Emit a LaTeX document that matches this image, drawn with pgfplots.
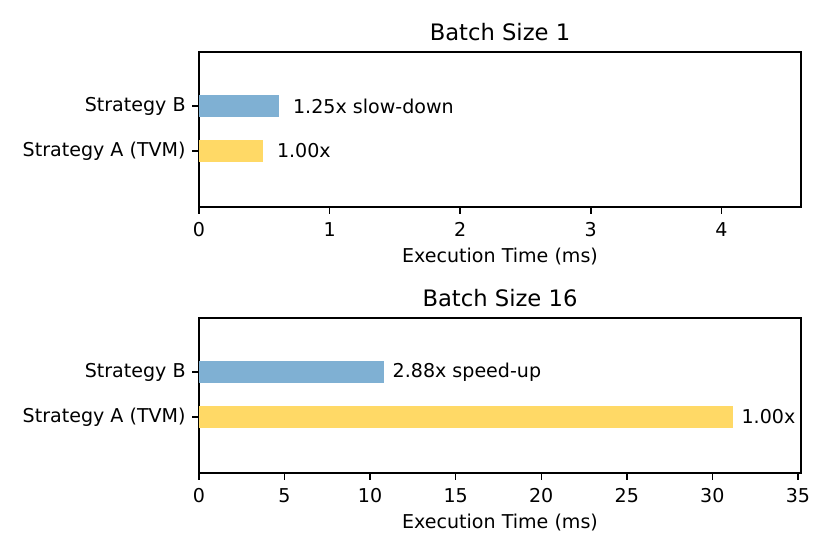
\documentclass[border=0pt]{standalone}
\usepackage{pgfplots}
\pgfplotsset{compat=1.18}
\usepackage{fontspec}
\setmainfont{DejaVu Sans}
\definecolor{barblue}{RGB}{127,176,211}
\definecolor{baryellow}{RGB}{255,217,102}
\pgfplotsset{
  myaxis/.style={
    scale only axis,
    width=451.5pt, height=116.25pt,
    anchor=south west,
    xbar, bar width=0.48, bar shift=0pt,
    ymin=-1.25, ymax=2.2, xmin=0,
    ytick={0,1}, yticklabels={Strategy A (TVM), Strategy B},
    xtick pos=bottom, ytick pos=left,
    tick align=outside, major tick length=5pt,
    axis line style={line width=1.1pt},
    every tick/.style={line width=1.1pt, black},
    tick label style={font=\fontsize{14.3}{17}\selectfont},
    xticklabel style={yshift=-3pt},
    yticklabel style={xshift=-1.5pt},
    label style={font=\fontsize{14.3}{17}\selectfont},
    title style={font=\fontsize{17}{20}\selectfont, yshift=-1pt},
    /pgf/number format/assume math mode=true,
    xlabel={Execution Time (ms)},
    xlabel style={yshift=-1.5pt},
    point meta=explicit symbolic,
    nodes near coords,
    every node near coord/.append style={anchor=west, font=\fontsize{14.3}{17}\selectfont, black},
  }
}
\begin{document}
\begin{tikzpicture}
\path[use as bounding box] (0,0) rectangle (622.5pt,415.5pt);
\begin{axis}[myaxis, at={(149.25pt,260.25pt)}, xmax=4.61, xtick={0,1,2,3,4},
  title={Batch Size 1},
  every node near coord/.append style={xshift=7pt}]
\addplot[fill=baryellow, draw=none] coordinates {(0.49,0) [1.00x]};
\addplot[fill=barblue, draw=none] coordinates {(0.613,1) [1.25x slow-down]};
\end{axis}
\begin{axis}[myaxis, at={(149.25pt,60.75pt)}, xmax=35.18, xtick={0,5,...,35},
  title={Batch Size 16},
  every node near coord/.append style={xshift=3pt}]
\addplot[fill=baryellow, draw=none] coordinates {(31.2,0) [1.00x]};
\addplot[fill=barblue, draw=none] coordinates {(10.81,1) [2.88x speed-up]};
\end{axis}
\end{tikzpicture}
\end{document}
